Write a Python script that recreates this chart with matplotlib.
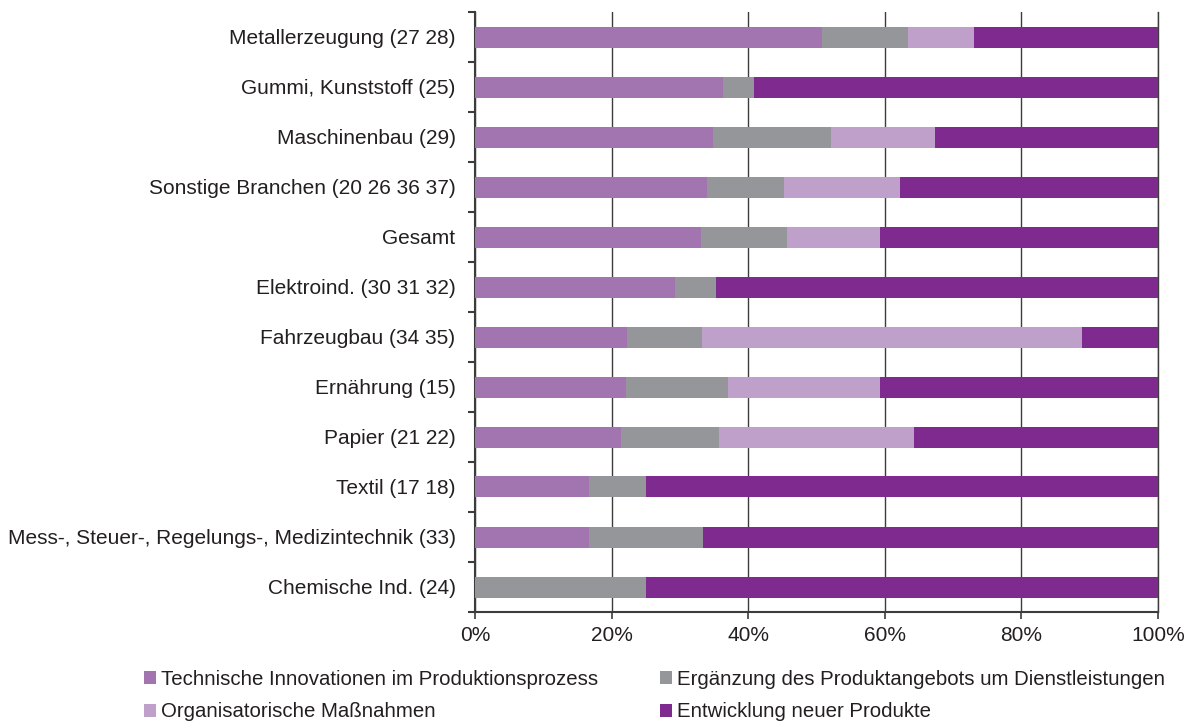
import matplotlib
matplotlib.use("Agg")
import matplotlib.pyplot as plt
import numpy as np
from matplotlib.patches import Patch

plt.rcParams['font.family'] = ['Liberation Sans', 'DejaVu Sans']

categories = [
    "Metallerzeugung (27 28)",
    "Gummi, Kunststoff (25)",
    "Maschinenbau (29)",
    "Sonstige Branchen (20 26 36 37)",
    "Gesamt",
    "Elektroind. (30 31 32)",
    "Fahrzeugbau (34 35)",
    "Ernährung (15)",
    "Papier (21 22)",
    "Textil (17 18)",
    "Mess-, Steuer-, Regelungs-, Medizintechnik (33)",
    "Chemische Ind. (24)",
]

technische = [50.8, 36.3, 34.8, 34.0, 33.1, 29.3, 22.2, 22.1, 21.4, 16.7, 16.7, 0.0]
ergaenzung = [12.6, 4.5, 17.3, 11.3, 12.6, 6.0, 11.1, 15.0, 14.3, 8.3, 16.7, 25.0]
organisatorisch = [9.6, 0.0, 15.2, 16.9, 13.6, 0.0, 55.6, 22.2, 28.6, 0.0, 0.0, 0.0]
entwicklung = [27.0, 59.2, 32.7, 37.8, 40.7, 64.7, 11.1, 40.7, 35.7, 75.0, 66.7, 75.0]

series_labels = [
    "Technische Innovationen im Produktionsprozess",
    "Ergänzung des Produktangebots um Dienstleistungen",
    "Organisatorische Maßnahmen",
    "Entwicklung neuer Produkte",
]
colors = ["#A275B0", "#959699", "#BFA0CB", "#7F2A8F"]
text_color = "#231F20"
line_color = "#3C3C3C"
fs = 15
legend_fs = 14.7

fig = plt.figure(figsize=(12.02, 7.22), dpi=100)
ax = fig.add_axes([475 / 1202, 1 - 612 / 722, (1158 - 475) / 1202, 600 / 722])

y = np.arange(len(categories))
series = [technische, ergaenzung, organisatorisch, entwicklung]
left = np.zeros(len(categories))
for vals, col in zip(series, colors):
    vals = np.array(vals)
    ax.barh(y, vals, left=left, height=0.42, color=col, edgecolor="none", zorder=3)
    left = left + vals

ax.set_ylim(len(categories) - 0.5, -0.5)
ax.set_xlim(0, 100)

ax.set_xticks(np.arange(0, 101, 20))
ax.set_xticklabels([f"{v}%" for v in range(0, 101, 20)])
ax.set_yticks(y)
ax.set_yticklabels(categories)
ax.set_yticks(np.arange(-0.5, len(categories), 1), minor=True)

ax.tick_params(axis="y", which="major", length=0, pad=14, labelsize=fs, labelcolor=text_color)
ax.tick_params(axis="y", which="minor", length=5, width=1.5, color=line_color, direction="out")
ax.tick_params(axis="x", which="major", length=5, width=1.2, color=line_color, direction="out",
               labelsize=fs, labelcolor=text_color, pad=5)

ax.grid(axis="x", color=line_color, linewidth=1.0, zorder=0)
ax.axvline(100, color=line_color, linewidth=1.0, zorder=0, clip_on=False)
for side in ["top", "right"]:
    ax.spines[side].set_visible(False)
for side in ["left", "bottom"]:
    ax.spines[side].set_color(line_color)
    ax.spines[side].set_linewidth(1.5)

handles = [Patch(facecolor=c, edgecolor="none") for c in colors]
leg_kw = dict(frameon=False, fontsize=legend_fs, handlelength=0.6, handleheight=0.6,
              handletextpad=0.25, labelspacing=0.65, borderpad=0, borderaxespad=0,
              labelcolor=text_color)
fig.legend([handles[0], handles[2]], [series_labels[0], series_labels[2]],
           loc="upper left", bbox_to_anchor=(144 / 1202, 1 - 670 / 722), **leg_kw)
fig.legend([handles[1], handles[3]], [series_labels[1], series_labels[3]],
           loc="upper left", bbox_to_anchor=(660 / 1202, 1 - 670 / 722), **leg_kw)

fig.savefig("out.png", dpi=100)
